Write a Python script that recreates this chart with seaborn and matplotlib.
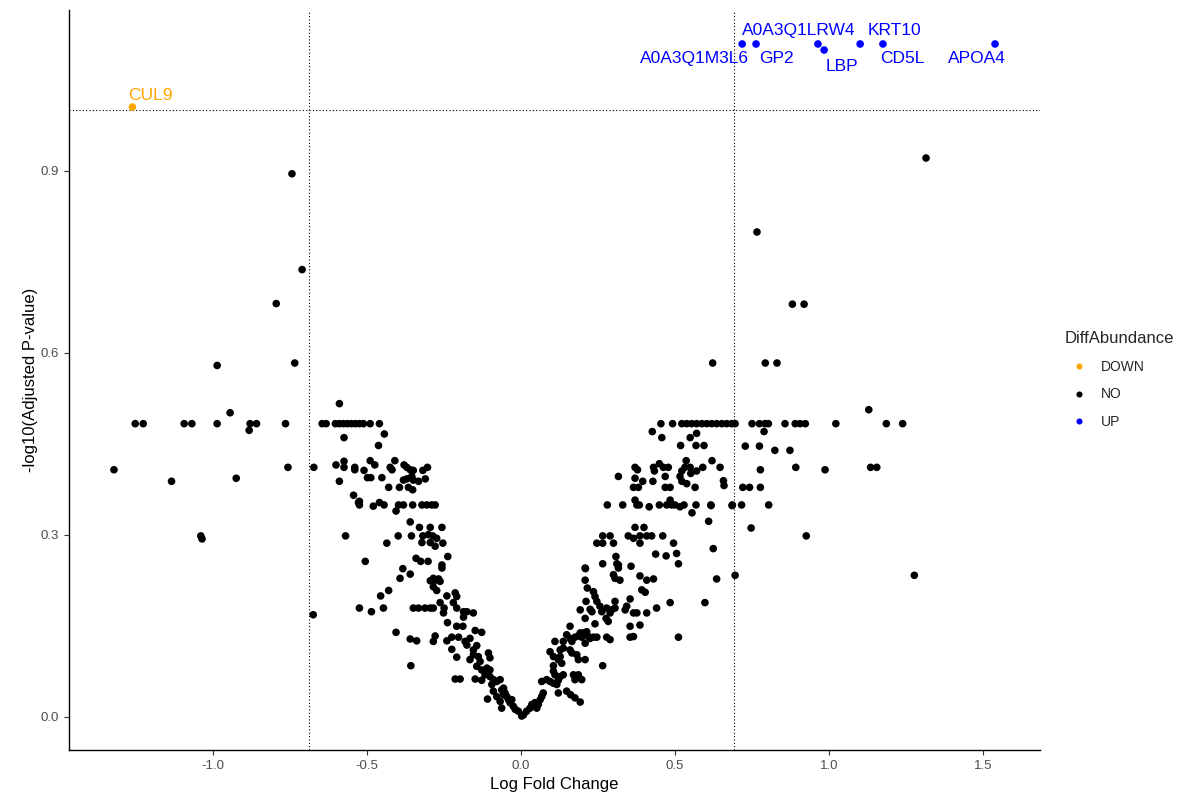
import matplotlib
matplotlib.use("Agg")
import matplotlib.pyplot as plt
import seaborn as sns
import pandas as pd

# ---------------- data ----------------
down_genes = ["CUL9"]
down_x = [-1.262]
down_y = [1.005]

up_genes = ["A0A3Q1M3L6", "GP2", "A0A3Q1LRW4", "LBP", "KRT10", "CD5L", "APOA4"]
up_x = [0.718, 0.763, 0.964, 0.984, 1.101, 1.175, 1.539]
up_y = [1.109, 1.109, 1.109, 1.099, 1.109, 1.109, 1.109]

left_outliers = [
    (-1.322, 0.407), (-1.253, 0.483), (-1.227, 0.483), (-1.135, 0.388), (-1.094, 0.483),
    (-1.069, 0.483), (-1.040, 0.298), (-1.036, 0.293), (-0.987, 0.579), (-0.987, 0.483),
    (-0.945, 0.501), (-0.925, 0.393), (-0.883, 0.472), (-0.880, 0.483), (-0.859, 0.483),
    (-0.765, 0.483), (-0.757, 0.411), (-0.735, 0.583), (-0.744, 0.895), (-0.711, 0.737),
    (-0.795, 0.681), (-0.675, 0.168), (-0.673, 0.411),
]

left_cluster = [
    (-0.590, 0.516),
    (-0.646, 0.483), (-0.633, 0.483), (-0.603, 0.483), (-0.590, 0.483), (-0.577, 0.483),
    (-0.564, 0.483), (-0.551, 0.483), (-0.538, 0.483), (-0.525, 0.483), (-0.512, 0.483),
    (-0.490, 0.483), (-0.460, 0.483),
    (-0.444, 0.466), (-0.575, 0.460), (-0.463, 0.447),
    (-0.601, 0.415), (-0.575, 0.421), (-0.575, 0.411), (-0.540, 0.411), (-0.540, 0.407),
    (-0.510, 0.406), (-0.490, 0.422), (-0.475, 0.415), (-0.425, 0.411), (-0.419, 0.407),
    (-0.410, 0.422), (-0.380, 0.415), (-0.371, 0.411), (-0.360, 0.407), (-0.350, 0.406),
    (-0.319, 0.406), (-0.304, 0.411),
    (-0.590, 0.388), (-0.499, 0.394), (-0.488, 0.394), (-0.452, 0.394), (-0.430, 0.378),
    (-0.395, 0.378), (-0.382, 0.390), (-0.371, 0.392), (-0.355, 0.396), (-0.350, 0.390),
    (-0.366, 0.378), (-0.352, 0.374), (-0.333, 0.388), (-0.311, 0.392),
    (-0.544, 0.365), (-0.528, 0.353), (-0.525, 0.355), (-0.525, 0.349), (-0.480, 0.347),
    (-0.460, 0.353), (-0.445, 0.349), (-0.406, 0.339), (-0.398, 0.349), (-0.382, 0.349),
    (-0.352, 0.349), (-0.322, 0.349), (-0.306, 0.349), (-0.290, 0.349), (-0.279, 0.349),
    (-0.360, 0.321), (-0.330, 0.312), (-0.295, 0.312), (-0.257, 0.312),
    (-0.570, 0.298), (-0.436, 0.286), (-0.399, 0.298), (-0.356, 0.298), (-0.319, 0.298),
    (-0.301, 0.300), (-0.287, 0.298), (-0.274, 0.294), (-0.322, 0.287), (-0.295, 0.287),
    (-0.279, 0.281), (-0.254, 0.286),
    (-0.238, 0.264), (-0.506, 0.256), (-0.341, 0.261), (-0.326, 0.256), (-0.302, 0.256),
    (-0.257, 0.250), (-0.257, 0.245),
    (-0.384, 0.244), (-0.360, 0.235), (-0.393, 0.228), (-0.285, 0.228), (-0.268, 0.227),
    (-0.295, 0.224), (-0.279, 0.225), (-0.263, 0.223), (-0.285, 0.214), (-0.274, 0.208),
    (-0.430, 0.208), (-0.456, 0.199),
    (-0.525, 0.179), (-0.486, 0.173), (-0.447, 0.179),
    (-0.350, 0.179), (-0.333, 0.179), (-0.312, 0.179), (-0.295, 0.179), (-0.285, 0.179),
]

center_v = [
    (-0.241, 0.199), (-0.214, 0.204), (-0.209, 0.198), (-0.263, 0.188), (-0.220, 0.188),
    (-0.250, 0.179), (-0.209, 0.179), (-0.252, 0.171), (-0.187, 0.173), (-0.176, 0.173),
    (-0.155, 0.171), (-0.187, 0.164), (-0.239, 0.155),
    (-0.406, 0.139), (-0.360, 0.128), (-0.339, 0.125), (-0.279, 0.133), (-0.285, 0.124),
    (-0.241, 0.125), (-0.225, 0.131), (-0.203, 0.131), (-0.182, 0.124), (-0.166, 0.129),
    (-0.149, 0.142), (-0.128, 0.139), (-0.209, 0.149), (-0.189, 0.149), (-0.176, 0.118),
    (-0.155, 0.110), (-0.144, 0.117), (-0.225, 0.111), (-0.209, 0.098),
    (-0.166, 0.094), (-0.155, 0.102), (-0.139, 0.099), (-0.133, 0.091), (-0.106, 0.105),
    (-0.101, 0.097), (-0.144, 0.083), (-0.128, 0.077), (-0.111, 0.080), (-0.101, 0.077),
    (-0.358, 0.084), (-0.214, 0.062), (-0.198, 0.062), (-0.149, 0.062), (-0.128, 0.060),
    (-0.117, 0.069), (-0.101, 0.066), (-0.090, 0.061), (-0.079, 0.058), (-0.095, 0.053),
    (-0.109, 0.029), (-0.090, 0.042), (-0.079, 0.033), (-0.063, 0.044), (-0.057, 0.036),
    (-0.068, 0.025), (-0.046, 0.033), (-0.041, 0.028), (-0.036, 0.023), (-0.025, 0.017),
    (-0.019, 0.012), (-0.009, 0.009), (0.002, 0.001), (-0.063, 0.014),
    (-0.068, 0.061), (-0.057, 0.047), (-0.052, 0.039), (-0.030, 0.028),
    (0.008, 0.003), (0.018, 0.009), (0.029, 0.014), (0.035, 0.020), (0.045, 0.023),
    (0.051, 0.014), (0.062, 0.028), (0.067, 0.033), (0.072, 0.039), (0.056, 0.020),
    (0.067, 0.058), (0.083, 0.061), (0.094, 0.058), (0.105, 0.055), (0.116, 0.053),
    (0.121, 0.060), (0.110, 0.069), (0.105, 0.075), (0.127, 0.066), (0.137, 0.069),
    (0.121, 0.039), (0.148, 0.042), (0.161, 0.036), (0.175, 0.031), (0.192, 0.024),
    (0.170, 0.069), (0.186, 0.069), (0.197, 0.061), (0.175, 0.061),
    (0.105, 0.084), (0.121, 0.094), (0.132, 0.088), (0.127, 0.099),
    (0.094, 0.107), (0.105, 0.099), (0.127, 0.110), (0.137, 0.113), (0.159, 0.110),
    (0.165, 0.105), (0.181, 0.102), (0.186, 0.094), (0.208, 0.094),
    (0.110, 0.124), (0.137, 0.124), (0.148, 0.135), (0.159, 0.129), (0.165, 0.124),
    (0.175, 0.131), (0.186, 0.133), (0.197, 0.131), (0.202, 0.138), (0.213, 0.140),
    (0.219, 0.132), (0.224, 0.129), (0.235, 0.131), (0.246, 0.131), (0.208, 0.121),
    (0.192, 0.138), (0.159, 0.149), (0.240, 0.153),
]

right_cluster = [
    (0.208, 0.162), (0.192, 0.176), (0.224, 0.177), (0.230, 0.173),
    (0.211, 0.190), (0.215, 0.212), (0.235, 0.206), (0.240, 0.198), (0.246, 0.190),
    (0.256, 0.182), (0.262, 0.173), (0.278, 0.179), (0.289, 0.171), (0.276, 0.162),
    (0.283, 0.157), (0.208, 0.225), (0.208, 0.245),
    (0.265, 0.252), (0.311, 0.252), (0.316, 0.245), (0.300, 0.234), (0.305, 0.228),
    (0.321, 0.225), (0.357, 0.248),
    (0.305, 0.179), (0.294, 0.176), (0.305, 0.190), (0.338, 0.176), (0.343, 0.182),
    (0.354, 0.194), (0.365, 0.171), (0.376, 0.171), (0.386, 0.151), (0.408, 0.171),
    (0.440, 0.179), (0.484, 0.188), (0.354, 0.149), (0.365, 0.132), (0.354, 0.131),
    (0.278, 0.131), (0.289, 0.127), (0.265, 0.084), (0.511, 0.131), (0.597, 0.188),
    (0.635, 0.227), (0.695, 0.233), (0.511, 0.252), (0.386, 0.232), (0.408, 0.225),
    (0.430, 0.227), (0.392, 0.209), (0.403, 0.205),
    (0.454, 0.483), (0.492, 0.483), (0.522, 0.483), (0.538, 0.483), (0.554, 0.483),
    (0.570, 0.483), (0.587, 0.483), (0.603, 0.483), (0.619, 0.483), (0.635, 0.483),
    (0.652, 0.483), (0.668, 0.483), (0.684, 0.483), (0.695, 0.483),
    (0.426, 0.470), (0.457, 0.460), (0.549, 0.460), (0.570, 0.467), (0.518, 0.447),
    (0.568, 0.447), (0.594, 0.447), (0.536, 0.422), (0.620, 0.422),
    (0.370, 0.411), (0.378, 0.407), (0.430, 0.411), (0.433, 0.405), (0.449, 0.417),
    (0.462, 0.411), (0.478, 0.411), (0.522, 0.405), (0.532, 0.411), (0.549, 0.411),
    (0.570, 0.405), (0.590, 0.411), (0.646, 0.411),
    (0.316, 0.396), (0.370, 0.393), (0.395, 0.388), (0.428, 0.388), (0.468, 0.396),
    (0.516, 0.396), (0.522, 0.388), (0.551, 0.401), (0.538, 0.384), (0.565, 0.378),
    (0.365, 0.378), (0.381, 0.378), (0.468, 0.378), (0.484, 0.378), (0.657, 0.389),
    (0.659, 0.381),
    (0.280, 0.349), (0.330, 0.349), (0.370, 0.357), (0.376, 0.349), (0.384, 0.349),
    (0.416, 0.346), (0.449, 0.349), (0.473, 0.349), (0.484, 0.357), (0.489, 0.349),
    (0.500, 0.349), (0.516, 0.346), (0.529, 0.349), (0.568, 0.349), (0.616, 0.349),
    (0.686, 0.349),
    (0.555, 0.336), (0.609, 0.322), (0.370, 0.312), (0.399, 0.312),
    (0.265, 0.298), (0.289, 0.298), (0.348, 0.298), (0.365, 0.294), (0.386, 0.298),
    (0.408, 0.298), (0.424, 0.298), (0.460, 0.298),
    (0.246, 0.286), (0.265, 0.286), (0.300, 0.286), (0.386, 0.286), (0.495, 0.286),
    (0.624, 0.277), (0.437, 0.268), (0.471, 0.265), (0.505, 0.269), (0.308, 0.264),
    (0.316, 0.250), (0.209, 0.244),
]

right_outliers = [
    (0.766, 0.799), (0.881, 0.680), (0.919, 0.680), (0.622, 0.583), (0.793, 0.583),
    (0.831, 0.583), (1.129, 0.506),
    (0.750, 0.483), (0.774, 0.483), (0.792, 0.483), (0.803, 0.483), (0.857, 0.483),
    (0.890, 0.483), (0.906, 0.483), (0.923, 0.483), (1.022, 0.483), (1.186, 0.483),
    (1.239, 0.483),
    (0.789, 0.470), (0.728, 0.446), (0.774, 0.446), (0.824, 0.439), (0.873, 0.439),
    (0.777, 0.407), (0.892, 0.411), (0.987, 0.407), (1.135, 0.411), (1.155, 0.411),
    (0.720, 0.378), (0.742, 0.378), (0.777, 0.378),
    (0.617, 0.348), (0.685, 0.348), (0.716, 0.349), (0.804, 0.349),
    (0.747, 0.311), (0.926, 0.298), (1.277, 0.233), (1.315, 0.921),
]

fc_cut = 0.69
p_cut = 1.0

# ---------------- build table ----------------
no_pts = left_outliers + left_cluster + center_v + right_cluster + right_outliers
df = pd.concat([
    pd.DataFrame({"logFC": down_x, "logP": down_y, "DiffAbundance": "DOWN", "label": down_genes}),
    pd.DataFrame({"logFC": [p[0] for p in no_pts], "logP": [p[1] for p in no_pts],
                  "DiffAbundance": "NO", "label": ""}),
    pd.DataFrame({"logFC": up_x, "logP": up_y, "DiffAbundance": "UP", "label": up_genes}),
], ignore_index=True)

palette = {"DOWN": "#FFA500", "NO": "#000000", "UP": "#0000FF"}

# ---------------- plot ----------------
sns.set_theme(style="ticks")
plt.rcParams["font.family"] = ["Liberation Sans", "DejaVu Sans"]

fig = plt.figure(figsize=(11.81, 7.97), dpi=100)
ax = fig.add_axes([69 / 1181, 1 - 750 / 797, (1040 - 69) / 1181, (750 - 10) / 797])

sns.scatterplot(data=df, x="logFC", y="logP", hue="DiffAbundance",
                hue_order=["DOWN", "NO", "UP"], palette=palette,
                s=30, linewidth=0, ax=ax, zorder=3)

ax.axvline(-fc_cut, color="black", lw=0.8, ls=(0, (1, 2)), zorder=1)
ax.axvline(fc_cut, color="black", lw=0.8, ls=(0, (1, 2)), zorder=1)
ax.axhline(p_cut, color="black", lw=0.8, ls=(0, (1, 2)), zorder=1)

# labels (offsets in points, mimicking ggrepel placement)
offsets = {
    "CUL9": (13, 8), "A0A3Q1M3L6": (-34.5, -10.8), "GP2": (14.4, -10.8),
    "A0A3Q1LRW4": (-13.7, 9.4), "LBP": (13, -12.2), "KRT10": (24.5, 9.4),
    "CD5L": (13.7, -10.8), "APOA4": (-13, -10.8),
}
lab = df[df["label"] != ""]
for _, r in lab.iterrows():
    ax.annotate(r["label"], (r["logFC"], r["logP"]), xytext=offsets[r["label"]],
                textcoords="offset points", ha="center", va="center",
                color=palette[r["DiffAbundance"]], fontsize=12.5)

ax.set_xlim(-1.468, 1.685)
ax.set_ylim(-0.055, 1.165)
ax.set_xticks([-1.0, -0.5, 0.0, 0.5, 1.0, 1.5])
ax.set_xticklabels(["-1.0", "-0.5", "0.0", "0.5", "1.0", "1.5"])
ax.set_yticks([0.0, 0.3, 0.6, 0.9])
ax.set_yticklabels(["0.0", "0.3", "0.6", "0.9"])
ax.tick_params(axis="both", colors="#333333", labelcolor="#4D4D4D", labelsize=9.5,
               length=3.5, width=0.8)
for side in ["top", "right"]:
    ax.spines[side].set_visible(False)
for side in ["left", "bottom"]:
    ax.spines[side].set_color("black")
    ax.spines[side].set_linewidth(1.0)

ax.set_xlabel("Log Fold Change", fontsize=12, color="black", labelpad=4)
ax.set_ylabel("-log10(Adjusted P-value)", fontsize=12, color="black", labelpad=2)

sns.move_legend(ax, "center left", bbox_to_anchor=(1.013, 0.5), frameon=False,
                title="DiffAbundance", fontsize=10, title_fontsize=12,
                markerscale=0.8, handletextpad=0.6, labelspacing=1.0)
leg = ax.get_legend()
leg._legend_box.align = "left"

fig.savefig("out.png", dpi=100)
